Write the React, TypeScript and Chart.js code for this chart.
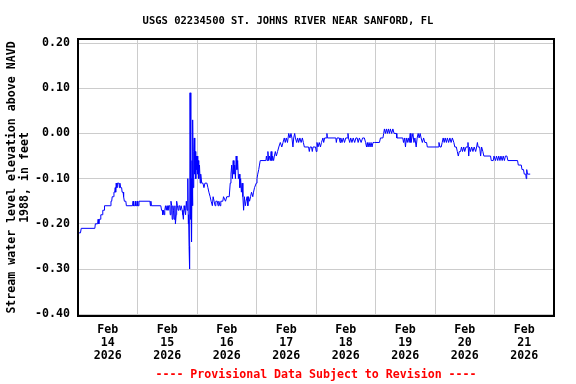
import React, { useEffect, useRef } from 'react';
import { Chart, registerables } from 'chart.js';

Chart.register(...registerables);

const TITLE = 'USGS 02234500 ST. JOHNS RIVER NEAR SANFORD, FL';
const Y_TITLE = ['Stream water level elevation above NAVD', '1988, in feet'];
const FOOTER = '---- Provisional Data Subject to Revision ----';
const MONTH = 'Feb';
const YEAR = '2026';
const DAY_LABELS = ['14', '15', '16', '17', '18', '19', '20', '21'];
const Y_TICKS = [-0.4, -0.3, -0.2, -0.1, 0.0, 0.1, 0.2];

// [hours since Feb 14 00:00, water level (ft)]
const feb14: [number, number][] = [
  [0, -0.22], [1.0, -0.22], [1.3, -0.21], [6.8, -0.21], [7.0, -0.20], [7.9, -0.20], [8.1, -0.19], [8.4, -0.20],
  [8.6, -0.19], [9.0, -0.19], [9.2, -0.18], [9.8, -0.18], [10.0, -0.17], [10.5, -0.17], [10.7, -0.16], [13.0, -0.16],
  [13.3, -0.15], [13.6, -0.15], [13.8, -0.14], [14.3, -0.14], [14.5, -0.13], [14.8, -0.13], [15.0, -0.12], [15.2, -0.13],
  [15.4, -0.11], [15.7, -0.12], [15.9, -0.11], [16.5, -0.11], [16.7, -0.12], [16.9, -0.11], [17.2, -0.12], [17.6, -0.12],
  [17.8, -0.13], [18.2, -0.13], [18.4, -0.14], [18.7, -0.15], [19.3, -0.15], [19.5, -0.16], [22.0, -0.16], [22.2, -0.15],
  [22.4, -0.16], [22.9, -0.16], [23.1, -0.15], [23.3, -0.16], [23.7, -0.16], [23.9, -0.15],
];
const feb15: [number, number][] = [
  [24.1, -0.16], [24.4, -0.16], [24.6, -0.15], [29.0, -0.15], [29.2, -0.16], [29.4, -0.15], [29.6, -0.16], [33.4, -0.16],
  [33.7, -0.17], [34.0, -0.17], [34.2, -0.18], [34.5, -0.17], [34.8, -0.18], [35.0, -0.17], [35.3, -0.16], [35.6, -0.17],
  [35.9, -0.16], [36.3, -0.17], [36.6, -0.16], [37.0, -0.16], [37.2, -0.18], [37.5, -0.15], [37.8, -0.16], [38.0, -0.19],
  [38.3, -0.16], [38.5, -0.17], [38.8, -0.19], [39.1, -0.16], [39.3, -0.20], [39.6, -0.18], [39.8, -0.15], [40.1, -0.16],
  [40.4, -0.17], [40.7, -0.16], [41.0, -0.16], [41.3, -0.17], [41.6, -0.16], [42.0, -0.17], [42.3, -0.18], [42.5, -0.19],
  [42.8, -0.16], [43.1, -0.17], [43.4, -0.18], [43.7, -0.15], [44.0, -0.17], [44.3, -0.10], [44.5, -0.20], [44.6, -0.18],
  [44.8, -0.25], [45.0, -0.30], [45.2, 0.09], [45.5, -0.19], [45.6, -0.10], [45.8, -0.24], [46.0, -0.06], [46.2, -0.16],
  [46.3, 0.03], [46.5, -0.12], [46.7, -0.04], [46.9, -0.01], [47.1, -0.09], [47.3, -0.04], [47.5, -0.10], [47.7, -0.05],
  [47.9, -0.08],
];
const feb16: [number, number][] = [
  [48.1, -0.05], [48.3, -0.09], [48.5, -0.06], [48.7, -0.10], [49.0, -0.07], [49.3, -0.11], [49.5, -0.09], [49.9, -0.11],
  [50.4, -0.11], [50.8, -0.12], [51.2, -0.11], [52.0, -0.11], [52.4, -0.12], [52.8, -0.13], [53.3, -0.14], [53.7, -0.15],
  [54.2, -0.16], [54.5, -0.14], [54.9, -0.15], [55.3, -0.16], [55.6, -0.15], [56.2, -0.15], [56.5, -0.16], [56.8, -0.15],
  [57.3, -0.16], [57.6, -0.15], [58.4, -0.15], [58.7, -0.14], [59.5, -0.15], [60.0, -0.14], [61.0, -0.14], [61.4, -0.11],
  [61.7, -0.09], [62.0, -0.07], [62.3, -0.10], [62.6, -0.06], [62.9, -0.09], [63.2, -0.07], [63.5, -0.10], [63.8, -0.05],
  [64.1, -0.08], [64.4, -0.06], [64.7, -0.10], [65.0, -0.09], [65.3, -0.12], [65.6, -0.10], [65.9, -0.13], [66.2, -0.11],
  [66.5, -0.14], [66.8, -0.17], [67.1, -0.14], [67.5, -0.16], [67.8, -0.15], [68.2, -0.14], [68.5, -0.16], [68.8, -0.14],
  [69.2, -0.15], [69.6, -0.14], [70.0, -0.13], [70.5, -0.14], [70.8, -0.13], [71.2, -0.12], [71.9, -0.11],
];
const feb17: [number, number][] = [
  [72.2, -0.10], [72.5, -0.09], [72.9, -0.08], [73.2, -0.07], [73.5, -0.06], [75.8, -0.06], [76.0, -0.05], [76.3, -0.06],
  [76.6, -0.04], [76.9, -0.06], [77.2, -0.05], [77.6, -0.06], [77.9, -0.04], [78.2, -0.06], [78.5, -0.05], [78.9, -0.06],
  [79.2, -0.05], [79.6, -0.04], [80.0, -0.05], [80.5, -0.04], [81.0, -0.03], [81.6, -0.02], [82.2, -0.03], [82.7, -0.02],
  [83.2, -0.01], [83.6, -0.02], [84.0, -0.01], [84.5, -0.02], [85.0, 0.00], [85.5, -0.01], [85.9, 0.00], [86.3, -0.01],
  [86.7, -0.03], [87.0, -0.01], [87.4, 0.00], [87.7, -0.01], [88.2, -0.02], [88.6, -0.01], [89.0, -0.02], [89.5, -0.01],
  [90.0, -0.02], [90.5, -0.01], [90.9, -0.02], [91.3, -0.03], [93.0, -0.03], [93.3, -0.04], [93.6, -0.03], [94.2, -0.03],
  [94.5, -0.04], [94.8, -0.03], [95.8, -0.03],
];
const feb18: [number, number][] = [
  [96.1, -0.04], [96.4, -0.02], [96.8, -0.03], [97.3, -0.02], [97.8, -0.03], [98.2, -0.02], [98.8, -0.01], [99.1, -0.02],
  [99.5, -0.01], [100.2, -0.01], [100.4, 0.00], [100.6, -0.01], [104.0, -0.01], [104.2, -0.02], [104.5, -0.01], [105.4, -0.01],
  [105.7, -0.02], [106.0, -0.01], [106.5, -0.02], [107.0, -0.01], [107.5, -0.02], [108.0, -0.01], [108.7, -0.01], [108.9, 0.00],
  [109.1, -0.01], [109.6, -0.02], [110.0, -0.01], [110.5, -0.02], [111.0, -0.01], [111.6, -0.02], [112.1, -0.01], [112.6, -0.01],
  [113.0, -0.02], [113.5, -0.01], [114.2, -0.02], [114.8, -0.01], [115.5, -0.01], [116.0, -0.02], [116.4, -0.03], [116.7, -0.02],
  [117.0, -0.03], [117.4, -0.02], [117.8, -0.03], [118.2, -0.02], [118.6, -0.03], [119.0, -0.02], [119.6, -0.02],
];
const feb19: [number, number][] = [
  [121.6, -0.02], [122.0, -0.01], [123.0, -0.01], [123.3, 0.00], [123.6, 0.01], [124.0, 0.00], [124.4, 0.01], [124.8, 0.00],
  [125.2, 0.01], [125.6, 0.00], [126.0, 0.01], [126.5, 0.00], [127.0, 0.01], [127.5, 0.00], [128.4, 0.00], [128.6, -0.01],
  [131.0, -0.01], [131.3, -0.02], [131.7, -0.01], [132.1, -0.03], [132.4, -0.01], [132.8, -0.02], [133.2, -0.01], [133.6, -0.02],
  [134.0, 0.00], [134.3, -0.02], [134.7, -0.01], [135.1, 0.00], [135.5, -0.02], [135.9, -0.01], [136.4, -0.03], [136.8, -0.01],
  [137.2, 0.00], [137.6, -0.01], [138.0, 0.00], [138.4, -0.01], [138.9, -0.02], [139.4, -0.01], [139.9, -0.02], [140.6, -0.02],
  [140.9, -0.03],
];
const feb20: [number, number][] = [
  [145.3, -0.03], [145.6, -0.02], [146.0, -0.03], [146.5, -0.03], [146.9, -0.02], [147.3, -0.01], [147.7, -0.02], [148.1, -0.01],
  [148.6, -0.02], [149.0, -0.01], [149.5, -0.02], [150.0, -0.01], [150.5, -0.02], [151.0, -0.01], [151.6, -0.02], [152.0, -0.03],
  [152.6, -0.03], [153.0, -0.04], [153.4, -0.05], [153.8, -0.04], [154.3, -0.04], [154.7, -0.03], [155.1, -0.04], [155.6, -0.03],
  [156.0, -0.04], [156.5, -0.03], [157.0, -0.03], [157.3, -0.02], [157.6, -0.05], [157.9, -0.03], [158.3, -0.04], [158.8, -0.03],
  [159.3, -0.04], [159.8, -0.03], [160.4, -0.04], [160.8, -0.03], [161.1, -0.02], [161.4, -0.03], [162.0, -0.03], [162.4, -0.05],
  [162.8, -0.03], [163.3, -0.04], [163.7, -0.05], [166.4, -0.05], [166.7, -0.06], [167.5, -0.06], [167.8, -0.05],
];
const feb21: [number, number][] = [
  [168.4, -0.06], [168.8, -0.05], [169.3, -0.06], [169.7, -0.05], [170.2, -0.06], [170.6, -0.05], [171.1, -0.06], [171.5, -0.05],
  [172.0, -0.06], [172.4, -0.05], [173.0, -0.05], [173.4, -0.06], [177.3, -0.06], [177.6, -0.07], [178.8, -0.07], [179.1, -0.08],
  [179.7, -0.08], [180.0, -0.09], [180.6, -0.09], [180.8, -0.10], [181.0, -0.08], [181.3, -0.09], [182.4, -0.09],
];

const FONT = "'DejaVu Sans Mono', monospace";

const framePlugin = {
  id: 'frame',
  afterDraw(chart: any) {
    const { ctx, chartArea } = chart;
    ctx.save();
    ctx.strokeStyle = '#000';
    ctx.lineWidth = 2;
    ctx.strokeRect(chartArea.left, chartArea.top, chartArea.right - chartArea.left, chartArea.bottom - chartArea.top);
    ctx.restore();
  },
};

export default function App() {
  const ref = useRef<HTMLCanvasElement | null>(null);

  useEffect(() => {
    if (!ref.current) return;
    const all = [...feb14, ...feb15, ...feb16, ...feb17, ...feb18, ...feb19, ...feb20, ...feb21];
    const points = all.map(([x, y]) => ({ x, y }));
    const dayCount = DAY_LABELS.length;

    const chart = new Chart(ref.current, {
      type: 'line',
      data: {
        datasets: [
          {
            data: points,
            borderColor: '#0000ff',
            borderWidth: 1,
            pointRadius: 0,
            tension: 0,
            fill: false,
          },
        ],
      },
      options: {
        animation: false,
        responsive: false,
        devicePixelRatio: 1,
        layout: { padding: 0 },
        plugins: {
          legend: { display: false },
          tooltip: { enabled: false },
          title: {
            display: true,
            text: TITLE,
            color: '#000',
            font: { family: FONT, size: 10.5, weight: 'bold', lineHeight: 1.2 },
            padding: { top: 14.7, bottom: 11.7 },
          },
        },
        scales: {
          x: {
            type: 'linear',
            min: 0,
            max: dayCount * 24,
            afterBuildTicks: (scale: any) => {
              const t: any[] = [];
              for (let i = 0; i <= dayCount; i++) {
                t.push({ value: i * 24 });
                if (i < dayCount) t.push({ value: i * 24 + 12 });
              }
              scale.ticks = t;
            },
            afterFit: (scale: any) => {
              scale.height = 68;
            },
            grid: {
              color: (ctx: any) => (ctx.tick && ctx.tick.value % 24 === 0 ? '#cccccc' : 'rgba(0,0,0,0)'),
              lineWidth: 1,
              drawTicks: false,
            },
            border: { display: false },
            ticks: {
              autoSkip: false,
              maxRotation: 0,
              minRotation: 0,
              padding: 8,
              color: '#000',
              font: { family: FONT, size: 11.6, weight: 'bold', lineHeight: 1.11 },
              callback: (v: any) => {
                const n = Number(v);
                if (n % 24 !== 12) return '';
                const idx = Math.floor(n / 24);
                return [MONTH, DAY_LABELS[idx], YEAR];
              },
            },
            title: {
              display: true,
              text: FOOTER,
              color: '#ff0000',
              font: { family: FONT, size: 11.6, weight: 'bold', lineHeight: 1.2 },
              padding: { top: 0, bottom: 2 },
            },
          },
          y: {
            min: -0.404,
            max: 0.209,
            afterBuildTicks: (scale: any) => {
              scale.ticks = Y_TICKS.map((value) => ({ value }));
            },
            afterFit: (scale: any) => {
              scale.width = 78;
            },
            grid: { color: '#cccccc', lineWidth: 1, drawTicks: false },
            border: { display: false },
            ticks: {
              padding: 8,
              color: '#000',
              font: { family: FONT, size: 11.6, weight: 'bold' },
              callback: (v: any) => Number(v).toFixed(2),
            },
            title: {
              display: true,
              text: Y_TITLE,
              color: '#000',
              font: { family: FONT, size: 11.6, weight: 'bold', lineHeight: 1.12 },
              padding: { top: 5, bottom: 0 },
            },
          },
          yRightSpace: {
            position: 'right',
            display: true,
            min: -0.404,
            max: 0.209,
            afterFit: (scale: any) => {
              scale.width = 22;
            },
            grid: { display: false, drawTicks: false },
            border: { display: false },
            ticks: { display: false },
          },
        },
      } as any,
      plugins: [framePlugin],
    });

    return () => chart.destroy();
  }, []);

  return (
    <div style={{ position: 'absolute', left: 0, top: 0, width: 576, height: 384, background: '#fff' }}>
      <canvas ref={ref} width={576} height={384} style={{ display: 'block' }} />
    </div>
  );
}
